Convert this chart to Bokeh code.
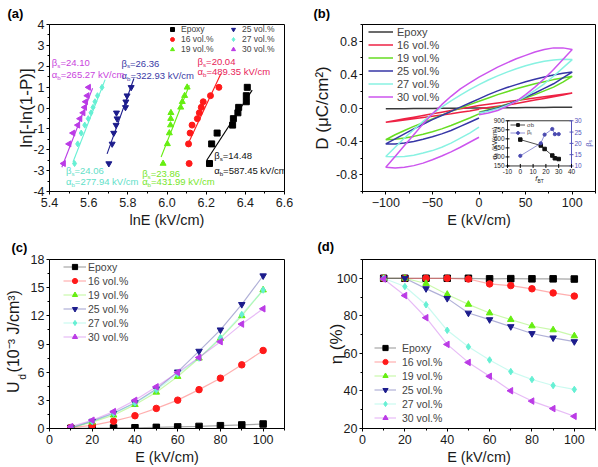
import numpy as np
from bokeh.plotting import figure
from bokeh.models import (Legend, LegendItem, Label, FixedTicker, Range1d, Title,
                          GridBox, PrintfTickFormatter)
from bokeh.core.properties import value
from bokeh.embed import file_html
from bokeh.resources import INLINE

FONT = "Liberation Sans"

# ---------------- data ----------------
series_names = ["Epoxy", "16 vol.%", "19 vol.%", "25 vol.%", "27 vol.%", "30 vol.%"]

# (a) Weibull plot
weibull_y = [-2.66, -1.72, -1.20, -0.82, -0.51, -0.23, 0.03, 0.30, 0.59, 0.99]
lnE_epoxy = [6.217, 6.228, 6.256, 6.335, 6.339, 6.362, 6.366, 6.405, 6.405, 6.410]
lnE_16 = [6.113, 6.110, 6.118, 6.128, 6.155, 6.165, 6.175, 6.185, 6.222, 6.265]
lnE_19 = [5.980, 6.002, 6.012, 6.018, 6.019, 6.020, 6.070, 6.078, 6.090, 6.103]
lnE_25 = [5.703, 5.720, 5.728, 5.740, 5.745, 5.742, 5.788, 5.790, 5.796, 5.817]
lnE_27 = [5.528, 5.544, 5.562, 5.580, 5.598, 5.612, 5.622, 5.632, 5.645, 5.668]
lnE_30 = [5.472, 5.500, 5.520, 5.545, 5.556, 5.572, 5.580, 5.585, 5.593, 5.600]
beta_s = [14.48, 20.04, 23.86, 26.36, 24.06, 24.10]
alpha_b = [587.45, 489.35, 431.99, 322.93, 277.94, 265.27]
fit_x_start = [6.203, 6.103, 5.970, 5.694, 5.520, 5.463]
fit_x_end = [6.435, 6.275, 6.114, 5.831, 5.684, 5.620]
beta_txt = ["14.48", "20.04", "23.86", "26.36", "24.06", "24.10"]
alpha_txt = ["587.45", "489.35", "431.99", "322.93", "277.94", "265.27"]

# (b) D-E loops : start branch (E 0 -> 100), upper branch (100 -> -100), end branch (-100 -> 0)
E_right = [0, 10, 20, 30, 40, 50, 60, 70, 80, 90, 100]
E_upper = [100, 90, 80, 70, 60, 50, 40, 30, 20, 10, 0, -10, -20, -30, -40, -50, -60, -70, -80, -90, -100]
E_left = [-100, -90, -80, -70, -60, -50, -40, -30, -20, -10, 0]
D_right_epoxy = [0.000, 0.001, 0.002, 0.003, 0.004, 0.005, 0.006, 0.007, 0.008, 0.009, 0.010]
D_upper_epoxy = [0.010, 0.009, 0.008, 0.007, 0.006, 0.005, 0.004, 0.003, 0.002, 0.001, 0.000,
                 -0.001, -0.002, -0.003, -0.004, -0.005, -0.006, -0.007, -0.008, -0.009, -0.010]
D_left_epoxy = [-0.010, -0.009, -0.008, -0.007, -0.006, -0.005, -0.004, -0.003, -0.002, -0.001, 0.000]
D_right_16 = [-0.01, 0.005, 0.02, 0.035, 0.055, 0.075, 0.095, 0.115, 0.135, 0.155, 0.18]
D_upper_16 = [0.18, 0.165, 0.15, 0.135, 0.12, 0.105, 0.09, 0.075, 0.06, 0.045, 0.03,
              0.01, -0.01, -0.03, -0.05, -0.07, -0.09, -0.11, -0.13, -0.15, -0.17]
D_left_16 = [-0.17, -0.16, -0.145, -0.13, -0.115, -0.10, -0.085, -0.07, -0.05, -0.035, -0.015]
D_right_19 = [-0.05, -0.02, 0.01, 0.045, 0.08, 0.12, 0.16, 0.205, 0.25, 0.31, 0.38]
D_upper_19 = [0.38, 0.36, 0.34, 0.315, 0.29, 0.26, 0.23, 0.195, 0.16, 0.12, 0.08,
              0.04, 0.0, -0.04, -0.085, -0.13, -0.175, -0.22, -0.27, -0.32, -0.38]
D_left_19 = [-0.38, -0.375, -0.36, -0.34, -0.315, -0.285, -0.25, -0.21, -0.165, -0.12, -0.07]
D_right_25 = [-0.06, -0.03, 0.0, 0.04, 0.085, 0.13, 0.18, 0.235, 0.29, 0.36, 0.43]
D_upper_25 = [0.43, 0.415, 0.395, 0.37, 0.345, 0.315, 0.28, 0.245, 0.205, 0.16, 0.11,
              0.06, 0.01, -0.04, -0.09, -0.14, -0.195, -0.25, -0.31, -0.37, -0.43]
D_left_25 = [-0.43, -0.43, -0.42, -0.40, -0.375, -0.345, -0.31, -0.27, -0.22, -0.17, -0.12]
D_right_27 = [-0.06, -0.04, -0.01, 0.03, 0.08, 0.14, 0.21, 0.29, 0.38, 0.48, 0.58]
D_upper_27 = [0.58, 0.585, 0.575, 0.56, 0.535, 0.505, 0.47, 0.43, 0.385, 0.335, 0.28,
              0.22, 0.155, 0.085, 0.01, -0.07, -0.16, -0.26, -0.36, -0.47, -0.58]
D_left_27 = [-0.58, -0.585, -0.58, -0.565, -0.54, -0.51, -0.47, -0.42, -0.36, -0.30, -0.23]
D_right_30 = [-0.08, -0.06, -0.03, 0.02, 0.08, 0.16, 0.25, 0.35, 0.46, 0.58, 0.70]
D_upper_30 = [0.70, 0.72, 0.72, 0.70, 0.67, 0.63, 0.59, 0.54, 0.49, 0.43, 0.37,
              0.30, 0.23, 0.14, 0.04, -0.07, -0.19, -0.32, -0.45, -0.58, -0.71]
D_left_30 = [-0.71, -0.72, -0.71, -0.69, -0.66, -0.62, -0.575, -0.525, -0.47, -0.41, -0.35]

# (b) inset
f_BT = [0, 16, 19, 25, 27, 30]

# (c) energy density & (d) efficiency
E_field = [10, 20, 30, 40, 50, 60, 70, 80, 90, 100]
Ud_epoxy = [0.02, 0.05, 0.06, 0.08, 0.12, 0.17, 0.22, 0.30, 0.38, 0.48]
Ud_16 = [0.10, 0.34, 0.78, 1.36, 2.14, 3.02, 4.14, 5.36, 6.78, 8.31]
Ud_19 = [0.07, 0.68, 1.42, 2.54, 3.86, 5.53, 7.49, 9.59, 12.0, 14.75]
Ud_25 = [0.05, 0.78, 1.63, 2.75, 4.20, 6.03, 8.24, 10.51, 13.22, 16.27]
Ud_27 = [0.10, 0.75, 1.60, 2.70, 4.10, 5.80, 7.50, 9.66, 12.14, 14.75]
Ud_30 = [0.20, 0.88, 1.80, 3.00, 4.44, 5.97, 7.56, 9.25, 11.12, 12.75]
eta_epoxy = [100, 100, 100, 100, 100, 99.7, 99.8, 99.7, 99.7, 99.6]
eta_16 = [100, 100, 100, 100, 99.6, 97.0, 96.1, 94.4, 92.2, 90.5]
eta_19 = [100, 100, 97.2, 91.4, 86.1, 81.5, 78.0, 74.6, 72.5, 69.3]
eta_25 = [100, 100, 94.5, 89.3, 81.5, 78.0, 74.3, 70.6, 68.3, 66.3]
eta_27 = [100, 95.6, 85.9, 72.3, 63.5, 56.5, 50.3, 46.1, 42.9, 40.8]
eta_30 = [99.6, 90.8, 79.0, 64.8, 55.2, 47.8, 40.1, 34.6, 30.6, 26.5]

# tick positions / labels
a_xticks = [5.4, 5.6, 5.8, 6.0, 6.2, 6.4, 6.6]
a_xminor = [5.5, 5.7, 5.9, 6.1, 6.3, 6.5]
a_yticks = [-4, -3, -2, -1, 0, 1, 2, 3, 4]
a_yminor = [-3.5, -2.5, -1.5, -0.5, 0.5, 1.5, 2.5, 3.5]
b_xticks = [-100, -50, 0, 50, 100]
b_xminor = [-125, -75, -25, 25, 75, 125]
b_yticks = [-0.8, -0.4, 0.0, 0.4, 0.8]
b_yminor = [-1.0, -0.6, -0.2, 0.2, 0.6, 1.0]
c_xticks = [0, 20, 40, 60, 80, 100]
c_xminor = [10, 30, 50, 70, 90, 110]
c_yticks = [0, 3, 6, 9, 12, 15, 18]
c_yminor = [1.5, 4.5, 7.5, 10.5, 13.5, 16.5]
d_yticks = [20, 40, 60, 80, 100]
d_yminor = [30, 50, 70, 90, 110]
i_xticks = [-10, 0, 10, 20, 30, 40]
i_yticks = [150, 300, 450, 600, 750, 900]
i_y2ticks = [10, 15, 20, 25, 30]

# ---------------- styles ----------------
colors = ["#000000", "#ff1a1a", "#66ee11", "#1c1c8c", "#66f0d4", "#bb3be6"]
text_colors = ["#111111", "#e8235a", "#77e62a", "#3a3aa6", "#62e0c8", "#c944dd"]
loop_colors = ["#3a3a3a", "#ee2244", "#66dd22", "#3636a6", "#88f2e2", "#cc55ee"]
markers = ["square", "circle", "triangle", "inverted_triangle", "diamond", "triangle"]
angles = [0, 0, 0, 0, 0, np.pi / 2]
INSET_BLUE = "#5555bb"

CW = {' ': 278, '\u00a0': 278, '(': 333, ')': 333, '-': 333, '.': 278, '/': 278, '=': 584,
      '%': 889, 'E': 667, 'U': 722, 'V': 667, 'J': 500, 'P': 667, 'B': 667, 'T': 611,
      'c': 500, 'd': 556, 'k': 500, 'f': 278, 'm': 833, 'l': 222, 'n': 556, 'b': 556,
      's': 500, 'o': 556, 'v': 500, 'α': 578, 'β': 575, 'σ': 617, '⁻': 500, '³': 333}


def tw(s, size):
    return sum(CW.get(ch, 556) for ch in s) * size / 1000.0


def rich_label(p, x, y, parts, size, color, angle=0.0, align="left", xo0=0.0, yo0=0.0,
               xr="default", yr="default", italic_first=False):
    sizes = [size if k == "n" else size * 0.65 for _, k in parts]
    total = sum(tw(t, s) for (t, _), s in zip(parts, sizes))
    adv = {"left": 0.0, "center": -total / 2.0, "right": -total}[align]
    for j, ((t, k), s) in enumerate(zip(parts, sizes)):
        shift = {"n": 0.0, "sub": -0.3 * size, "sup": 0.38 * size}[k]
        if t.startswith(" "):
            adv += tw(" ", s)
            t = t.lstrip()
        if angle == 0:
            xo, yo = adv, shift
        else:
            xo, yo = -shift, adv
        p.add_layout(Label(x=x, y=y, x_offset=xo0 + xo, y_offset=yo0 + yo, text=t, angle=angle,
                           x_range_name=xr, y_range_name=yr,
                           text_font=FONT, text_font_size=f"{s:.1f}px", text_color=color,
                           text_font_style="italic" if (italic_first and j == 0) else "normal",
                           text_baseline="middle", text_align="left"))
        adv += tw(t, s)


def style_axis(ax, tick_size="12.5px", label_size="14.5px"):
    ax.axis_line_color = "black"
    ax.major_tick_line_color = "black"
    ax.minor_tick_line_color = "black"
    ax.major_tick_out = 3
    ax.major_tick_in = 0
    ax.minor_tick_out = 2
    ax.minor_tick_in = 0
    ax.major_label_text_font = FONT
    ax.major_label_text_font_size = tick_size
    ax.major_label_text_color = "#1a1a1a"
    ax.major_label_standoff = 2
    ax.axis_label_text_font = FONT
    ax.axis_label_text_font_size = label_size
    ax.axis_label_text_font_style = "normal"
    ax.axis_label_text_color = "#1a1a1a"
    ax.axis_label_standoff = 0


def make_fig(w, h, xr, yr, bl, br, bt, bb, xt, xm, yt, ym, xfmt=None, yfmt=None):
    p = figure(width=w, height=h, x_range=Range1d(*xr), y_range=Range1d(*yr),
               output_backend="svg", toolbar_location=None,
               min_border_left=bl, min_border_right=br, min_border_top=bt, min_border_bottom=bb)
    p.xgrid.visible = False
    p.ygrid.visible = False
    p.outline_line_color = "black"
    p.outline_line_alpha = 1.0
    p.outline_line_width = 1
    p.background_fill_color = "white"
    p.border_fill_color = "white"
    p.xaxis.ticker = FixedTicker(ticks=xt, minor_ticks=xm)
    p.yaxis.ticker = FixedTicker(ticks=yt, minor_ticks=ym)
    if xfmt:
        p.xaxis.formatter = PrintfTickFormatter(format=xfmt)
    if yfmt:
        p.yaxis.formatter = PrintfTickFormatter(format=yfmt)
    for ax in p.xaxis:
        style_axis(ax)
        ax.major_label_standoff = 3
        ax.axis_label_standoff = 2
    for ax in p.yaxis:
        style_axis(ax, label_size="17px")
    return p


def panel_label(p, offset, txt, standoff=7):
    p.add_layout(Title(text=txt, align="left", offset=offset, standoff=standoff, text_font=FONT,
                       text_font_size="13px", text_font_style="bold", text_color="black"),
                 "above")


# ---------------- (a) ----------------
pa = make_fig(300, 230, (5.4, 6.6), (-4, 4), 49, 16, 24, 36,
              a_xticks, a_xminor, a_yticks, a_yminor, xfmt="%.1f", yfmt="%d")
pa.xaxis.axis_label = "lnE (kV/cm)"
pa.yaxis.axis_label = "ln[-ln(1-P)]"
pa.yaxis.axis_label_standoff = -6
lnE_all = [lnE_epoxy, lnE_16, lnE_19, lnE_25, lnE_27, lnE_30]
a_items = []
for i in range(6):
    x0, x1 = fit_x_start[i], fit_x_end[i]
    lna = float(np.log(alpha_b[i]))
    pa.line([x0, x1], [beta_s[i] * (x0 - lna), beta_s[i] * (x1 - lna)],
            line_color=colors[i], line_width=1.1)
    r = pa.scatter(lnE_all[i], weibull_y, marker=markers[i], size=6, angle=angles[i],
                   fill_color=colors[i], line_color=colors[i])
    a_items.append(LegendItem(label=series_names[i], renderers=[r]))
leg_a = Legend(items=a_items, location=(118, 137), orientation="vertical", nrows=3,
               label_text_font=FONT, label_text_font_size="8.5px", glyph_width=10,
               glyph_height=10, label_height=10, label_standoff=4, label_width=47,
               spacing=0, padding=0, margin=0, border_line_alpha=0, background_fill_alpha=0)
pa.add_layout(leg_a)
ann_x = [6.241, 6.156, 5.873, 5.7675, 5.484, 5.412]
ann_y_beta = [-2.29, 2.23, -3.14, 2.15, -3.01, 2.18]
ann_y_alpha = [-3.01, 1.76, -3.53, 1.56, -3.53, 1.59]
for i in range(6):
    rich_label(pa, ann_x[i], ann_y_beta[i], [("β", "n"), ("s", "sub"), ("=" + beta_txt[i], "n")],
               9.5, text_colors[i])
    rich_label(pa, ann_x[i], ann_y_alpha[i],
               [("α", "n"), ("b", "sub"), ("=" + alpha_txt[i] + " kV/cm", "n")], 9.5, text_colors[i])
panel_label(pa, -42, "(a)")

# ---------------- (b) ----------------
B_LEFT, B_RIGHT, B_TOP, B_BOTTOM = 62, 3, 24, 36
B_W, B_H = 298, 230
pb = make_fig(B_W, B_H, (-125, 125), (-1.0, 1.0), B_LEFT, B_RIGHT, B_TOP, B_BOTTOM,
              b_xticks, b_xminor, b_yticks, b_yminor, yfmt="%.1f")
pb.xaxis.axis_label = "E (kV/cm)"
pb.yaxis.axis_label = "D (μC/cm²)"
pb.yaxis.axis_label_standoff = 1
loops = [(D_right_epoxy, D_upper_epoxy, D_left_epoxy), (D_right_16, D_upper_16, D_left_16),
         (D_right_19, D_upper_19, D_left_19), (D_right_25, D_upper_25, D_left_25),
         (D_right_27, D_upper_27, D_left_27), (D_right_30, D_upper_30, D_left_30)]
b_items = []
for i in range(6):
    dr, du, dl = loops[i]
    r = pb.line(E_right + E_upper + E_left, dr + du + dl, line_color=loop_colors[i], line_width=1.5)
    b_items.append(LegendItem(label=series_names[i], renderers=[r]))
leg_b = Legend(items=b_items, location=(6, 88), orientation="vertical",
               label_text_font=FONT, label_text_font_size="11px", glyph_width=25,
               glyph_height=13, label_height=13, label_standoff=4, spacing=0, padding=0,
               margin=0, border_line_alpha=0, background_fill_alpha=0)
pb.add_layout(leg_b)
panel_label(pb, -49, "(b)")

# ---------------- inset inside (b), drawn through extra ranges ----------------
IN_L, IN_R, IN_T, IN_B = 507, 571, 122, 168   # inset frame box on the page, pixels
fr_l, fr_r = B_LEFT, B_W - B_RIGHT
fr_t, fr_b = B_TOP, B_H - B_BOTTOM
page_x0 = 300  # (b) canvas starts here


def inset_range(v0, v1, f0, f1):
    span = (v1 - v0) / (f1 - f0)
    start = v0 - f0 * span
    return Range1d(start, start + span)


fx0 = (IN_L - page_x0 - fr_l) / (fr_r - fr_l)
fx1 = (IN_R - page_x0 - fr_l) / (fr_r - fr_l)
fy0 = (fr_b - IN_B) / (fr_b - fr_t)
fy1 = (fr_b - IN_T) / (fr_b - fr_t)
pb.extra_x_ranges = {"ix": inset_range(i_xticks[0], i_xticks[-1], fx0, fx1)}
pb.extra_y_ranges = {"isig": inset_range(i_yticks[0], i_yticks[-1], fy0, fy1),
                     "ibeta": inset_range(i_y2ticks[0], i_y2ticks[-1], fy0, fy1)}
xl, xr_ = i_xticks[0], i_xticks[-1]
yl, yh = i_yticks[0], i_yticks[-1]
pb.quad(left=[xl], right=[xr_], bottom=[yl], top=[yh], x_range_name="ix", y_range_name="isig",
        fill_color="white", line_color="black", line_width=0.8)
pb.segment(x0=[xr_], y0=[i_y2ticks[0]], x1=[xr_], y1=[i_y2ticks[-1]], x_range_name="ix",
           y_range_name="ibeta", line_color=INSET_BLUE, line_width=1)
pb.scatter([xl] * len(i_yticks), i_yticks, marker="dash", size=4, line_color="black",
           x_range_name="ix", y_range_name="isig")
pb.scatter([xr_] * len(i_y2ticks), i_y2ticks, marker="dash", size=4, line_color=INSET_BLUE,
           x_range_name="ix", y_range_name="ibeta")
pb.scatter(i_xticks, [yl] * len(i_xticks), marker="dash", angle=np.pi / 2, size=4,
           line_color="black", x_range_name="ix", y_range_name="isig")
pb.text(x=[xl] * len(i_yticks), y=i_yticks, text=[str(t) for t in i_yticks], x_offset=-3,
        text_align="right", text_baseline="middle", text_font=value(FONT),
        text_font_size="6.5px", text_color="#222222", x_range_name="ix", y_range_name="isig")
pb.text(x=[xr_] * len(i_y2ticks), y=i_y2ticks, text=[str(t) for t in i_y2ticks], x_offset=3,
        text_align="left", text_baseline="middle", text_font=value(FONT),
        text_font_size="6.5px", text_color=INSET_BLUE, x_range_name="ix", y_range_name="ibeta")
pb.text(x=i_xticks, y=[yl] * len(i_xticks), text=[str(t) for t in i_xticks], y_offset=3,
        text_align="center", text_baseline="top", text_font=value(FONT),
        text_font_size="6.5px", text_color="#222222", x_range_name="ix", y_range_name="isig")
r1a = pb.line(f_BT, alpha_b, line_color="#222222", line_width=0.8, x_range_name="ix",
              y_range_name="isig")
r1b = pb.scatter(f_BT, alpha_b, marker="square", size=3.5, color="#111111", x_range_name="ix",
                 y_range_name="isig")
r2a = pb.line(f_BT, beta_s, line_color="#7777cc", line_width=0.8, x_range_name="ix",
              y_range_name="ibeta")
r2b = pb.scatter(f_BT, beta_s, marker="circle", size=3.2, color="#4a4ab0", x_range_name="ix",
                 y_range_name="ibeta")
leg_i = Legend(items=[LegendItem(label="σb", renderers=[r1a, r1b]),
                      LegendItem(label="βₛ", renderers=[r2a, r2b])],
               location=(IN_L - page_x0 - fr_l + 3, fr_b - IN_T - 17),
               label_text_font=FONT, label_text_font_size="6px",
               glyph_width=15, glyph_height=7, label_height=7, label_standoff=2, spacing=0,
               padding=0, margin=0, border_line_alpha=0, background_fill_alpha=0)
pb.add_layout(leg_i)
rich_label(pb, xl, (yl + yh) / 2, [("σ", "n"), ("b", "sub"), (" (kV/cm)", "n")], 7, "#222222",
           angle=np.pi / 2, align="center", xo0=-13, xr="ix", yr="isig")
rich_label(pb, xr_, (i_y2ticks[0] + i_y2ticks[-1]) / 2, [("β", "n"), ("s", "sub")], 7.5,
           INSET_BLUE, angle=np.pi / 2, align="center", xo0=17, xr="ix", yr="ibeta")
rich_label(pb, (xl + xr_) / 2, yl, [("f", "n"), ("BT", "sub")], 7.5, "#222222",
           align="center", yo0=-13, xr="ix", yr="isig", italic_first=True)

# ---------------- (c) ----------------
C_H, C_TOP, C_BOTTOM = 237, 26, 34
pc = make_fig(300, C_H, (0, 110), (0, 18), 43, 16, C_TOP, C_BOTTOM,
              c_xticks, c_xminor, c_yticks, c_yminor, yfmt="%d")
pc.xaxis.axis_label = "E (kV/cm)"
Ud_all = [Ud_epoxy, Ud_16, Ud_19, Ud_25, Ud_27, Ud_30]
c_items = []
for i in range(6):
    rl = pc.line(E_field, Ud_all[i], line_color=colors[i], line_alpha=0.35, line_width=1.2)
    rm = pc.scatter(E_field, Ud_all[i], marker=markers[i], size=6.5, angle=angles[i],
                    fill_color=colors[i], line_color=colors[i])
    c_items.append(LegendItem(label=series_names[i], renderers=[rl, rm]))
leg_c = Legend(items=c_items, location=(14, 85), orientation="vertical",
               label_text_font=FONT, label_text_font_size="10.5px", glyph_width=23,
               glyph_height=13, label_height=13, label_standoff=2, spacing=1, padding=0,
               margin=0, border_line_alpha=0, background_fill_alpha=0)
pc.add_layout(leg_c)
# y-axis title "U_d (10^-3 J/cm^3)" as two side titles (main text + subscript d)
UL_SIZE = 16.0
u_main = "U\u00a0\u00a0(10⁻³ J/cm³)"
u_len = tw(u_main, UL_SIZE)
frame_h_c = C_H - C_TOP - C_BOTTOM
u_off = (frame_h_c - u_len) / 2.0
pc.add_layout(Title(text="d", align="left", offset=u_off + tw("U", UL_SIZE) + 1.5, standoff=0,
                    text_font=FONT, text_font_size=f"{UL_SIZE * 0.65:.1f}px",
                    text_font_style="normal", text_color="#1a1a1a"), "left")
pc.add_layout(Title(text=u_main, align="left", offset=u_off, standoff=-14,
                    text_font=FONT, text_font_size=f"{UL_SIZE:.1f}px",
                    text_font_style="normal", text_color="#1a1a1a"), "left")
panel_label(pc, -38, "(c)", standoff=10)

# ---------------- (d) ----------------
pd_ = make_fig(298, 237, (0, 110), (20, 110), 60, 3, 28, 38,
               c_xticks, c_xminor, d_yticks, d_yminor, yfmt="%d")
pd_.xaxis.axis_label = "E (kV/cm)"
pd_.yaxis.axis_label = "η (%)"
pd_.yaxis.axis_label_standoff = -12
eta_all = [eta_epoxy, eta_16, eta_19, eta_25, eta_27, eta_30]
d_items = []
for i in range(6):
    rl = pd_.line(E_field, eta_all[i], line_color=colors[i], line_alpha=0.35, line_width=1.2)
    rm = pd_.scatter(E_field, eta_all[i], marker=markers[i], size=6.5, angle=angles[i],
                     fill_color=colors[i], line_color=colors[i])
    d_items.append(LegendItem(label=series_names[i], renderers=[rl, rm]))
leg_d = Legend(items=d_items, location=(12, 4), orientation="vertical",
               label_text_font=FONT, label_text_font_size="10.5px", glyph_width=22,
               glyph_height=13, label_height=13, label_standoff=6, spacing=1, padding=0,
               margin=0, border_line_alpha=0, background_fill_alpha=0)
pd_.add_layout(leg_d)
panel_label(pd_, -45, "(d)", standoff=12)

grid = GridBox(children=[(pa, 0, 0), (pb, 0, 1), (pc, 1, 0), (pd_, 1, 1)], spacing=0)

open("out.html", "w").write(file_html(grid, INLINE))
